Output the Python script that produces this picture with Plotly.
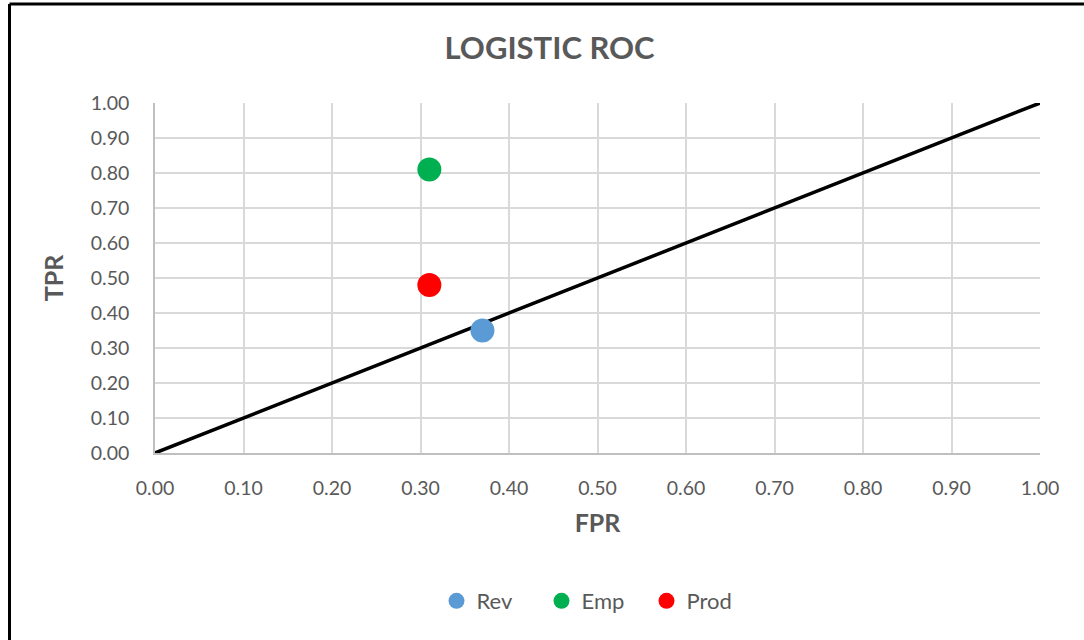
import plotly.graph_objects as go

# ROC points for each model (false positive rate, true positive rate)
series_names = ["Rev", "Emp", "Prod"]
fpr_values = [0.37, 0.31, 0.31]
tpr_values = [0.35, 0.81, 0.48]
series_colors = ["#5b9bd5", "#00b050", "#ff0000"]

# Chance (diagonal) reference line
chance_x = [0.0, 1.0]
chance_y = [0.0, 1.0]

tick_values = [i / 10 for i in range(11)]
tick_labels = [f"{v:.2f}" for v in tick_values]

FONT = "Lato"
GRAY = "#595959"

fig = go.Figure()

fig.add_trace(go.Scatter(
    x=chance_x, y=chance_y, mode="lines",
    line=dict(color="black", width=3.5),
    showlegend=False, hoverinfo="skip",
))

for name, fx, ty, col in zip(series_names, fpr_values, tpr_values, series_colors):
    fig.add_trace(go.Scatter(
        x=[fx], y=[ty], mode="markers", name=name,
        marker=dict(color=col, size=24, line=dict(width=0)),
    ))

# Plot area in pixels: x 155..1040, y 103..453
L, R, T, B = 155, 44, 103, 187
W, H = 1084, 640
pw, ph = W - L - R, H - T - B

def px_x(x):
    return (x - L) / pw

def px_y(y):
    return (H - B - y) / ph

axis_common = dict(
    range=[0, 1],
    tickvals=tick_values,
    ticktext=tick_labels,
    showgrid=True,
    gridcolor="#d9d9d9",
    gridwidth=1.5,
    zeroline=False,
    showline=True,
    linecolor="#bfbfbf",
    linewidth=1.5,
    ticks="",
    tickfont=dict(family=FONT, size=19.5, color=GRAY),
    fixedrange=True,
)

fig.update_layout(
    width=W, height=H,
    margin=dict(l=L, r=R, t=T, b=B),
    paper_bgcolor="white",
    plot_bgcolor="white",
    title=dict(
        text="<b>LOGISTIC ROC</b>",
        font=dict(family=FONT, size=31, color=GRAY),
        x=0.507, xref="container", xanchor="center",
        y=1 - 48 / H, yref="container", yanchor="middle",
    ),
    xaxis=dict(
        **axis_common,
        ticklabelstandoff=17,
        title=dict(text="<b>FPR</b>", font=dict(family=FONT, size=25, color=GRAY), standoff=16),
    ),
    yaxis=dict(
        **axis_common,
        ticklabelstandoff=20,
        title=dict(text="<b>TPR</b>", font=dict(family=FONT, size=25, color=GRAY), standoff=20),
    ),
    legend=dict(
        orientation="h",
        x=px_x(594), xanchor="center",
        y=px_y(601), yanchor="middle",
        font=dict(family=FONT, size=22, color=GRAY),
        itemsizing="trace",
        itemwidth=30,
        entrywidth=60,
        traceorder="normal",
    ),
    shapes=[
        dict(type="line", xref="paper", yref="paper",
             x0=px_x(9.5), x1=px_x(W + 5), y0=px_y(4), y1=px_y(4),
             line=dict(color="black", width=3)),
        dict(type="line", xref="paper", yref="paper",
             x0=px_x(9.5), x1=px_x(9.5), y0=px_y(4), y1=px_y(H + 5),
             line=dict(color="black", width=3)),
    ],
)

fig.write_html("out.html")
